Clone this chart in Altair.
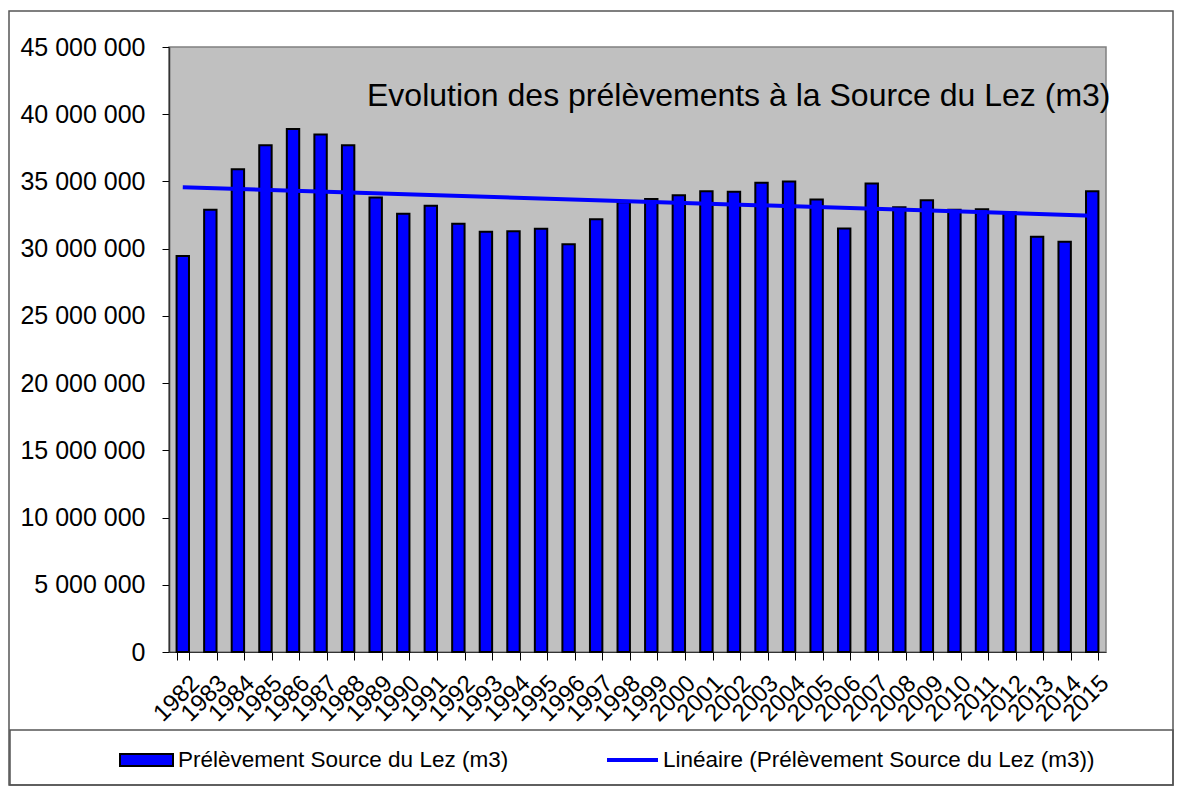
import altair as alt
import pandas as pd

years = list(range(1982, 2016))
values = [29.45, 32.9, 35.9, 37.7, 38.9, 38.5, 37.7, 33.8, 32.6, 33.2,
          31.85, 31.25, 31.3, 31.48, 30.33, 32.19, 33.45, 33.7, 33.97, 34.27,
          34.23, 34.9, 34.99, 33.66, 31.5, 34.84, 33.08, 33.6, 32.9, 32.93,
          32.7, 30.88, 30.51, 34.27]
values = [v * 1_000_000 for v in values]

y_ticks = [0, 5e6, 10e6, 15e6, 20e6, 25e6, 30e6, 35e6, 40e6, 45e6]
title_text = "Evolution des prélèvements à la Source du Lez (m3)"
legend_bar = "Prélèvement Source du Lez (m3)"
legend_line = "Linéaire (Prélèvement Source du Lez (m3))"

df = pd.DataFrame({"year": years, "value": values})

FONT = "Liberation Sans"
W, H = 937, 605
BLUE = "#0000FF"

x_enc = alt.X(
    "year:O",
    title=None,
    scale=alt.Scale(paddingInner=0.55, paddingOuter=0.275),
    axis=alt.Axis(
        labelAngle=-45, labelAlign="right", labelBaseline="top",
        labelFontSize=24, labelFont=FONT, labelColor="black",
        labelPadding=11, labelOffset=4, tickBand="extent", tickSize=8,
        tickColor="black", domainColor="#333333", labelOverlap=False,
    ),
)
y_enc = alt.Y(
    "value:Q",
    title=None,
    scale=alt.Scale(domain=[0, 45e6], nice=False),
    axis=alt.Axis(
        values=y_ticks, grid=False, tickSize=7, tickColor="black",
        domainColor="#333333", domainWidth=1.5,
        labelFontSize=25, labelFont=FONT, labelColor="black", labelPadding=17,
        labelExpr="replace(replace(format(datum.value, ','), ',', ' '), ',', ' ')",
    ),
)

bars = alt.Chart(df).mark_bar(color=BLUE, stroke="black", strokeWidth=2).encode(
    x=x_enc, y=y_enc
)

trend = (
    alt.Chart(df)
    .transform_regression("year", "value", method="linear")
    .mark_line(color=BLUE, strokeWidth=4)
    .encode(x=alt.X("year:O"), y=alt.Y("value:Q"))
)

one = pd.DataFrame({"a": [0]})

title = alt.Chart(one).mark_text(
    text=title_text, font=FONT, fontSize=32, align="left", baseline="alphabetic",
    color="black",
).encode(x=alt.value(198), y=alt.value(59))

outer = alt.Chart(one).mark_rect(fill=None, stroke="#555555", strokeWidth=1.5).encode(
    x=alt.value(-160), x2=alt.value(1004), y=alt.value(-36), y2=alt.value(738)
)
legend_box = alt.Chart(one).mark_rect(fill=None, stroke="#555555", strokeWidth=1.5).encode(
    x=alt.value(-159), x2=alt.value(1004), y=alt.value(683), y2=alt.value(738)
)
leg_sym_bar = alt.Chart(one).mark_rect(fill=BLUE, stroke="black", strokeWidth=2).encode(
    x=alt.value(-49), x2=alt.value(4), y=alt.value(707), y2=alt.value(719)
)
leg_txt_bar = alt.Chart(one).mark_text(
    text=legend_bar, font=FONT, fontSize=22.5, align="left", baseline="middle", color="black"
).encode(x=alt.value(9), y=alt.value(713))
leg_sym_line = alt.Chart(one).mark_rule(color=BLUE, strokeWidth=4).encode(
    x=alt.value(438), x2=alt.value(489), y=alt.value(713)
)
leg_txt_line = alt.Chart(one).mark_text(
    text=legend_line, font=FONT, fontSize=22.5, align="left", baseline="middle", color="black"
).encode(x=alt.value(494), y=alt.value(713))

chart = (
    alt.layer(bars, trend, title, outer, legend_box, leg_sym_bar, leg_txt_bar,
              leg_sym_line, leg_txt_line)
    .properties(
        width=W, height=H,
        autosize=alt.AutoSizeParams(type="none"),
        padding={"left": 161, "top": 39, "right": 68, "bottom": 134},
        background="white",
    )
    .configure_view(fill="#C0C0C0", stroke="#808080", strokeWidth=1.5)
)

chart.save("out.html", embed_options={"renderer": "svg", "actions": False})
